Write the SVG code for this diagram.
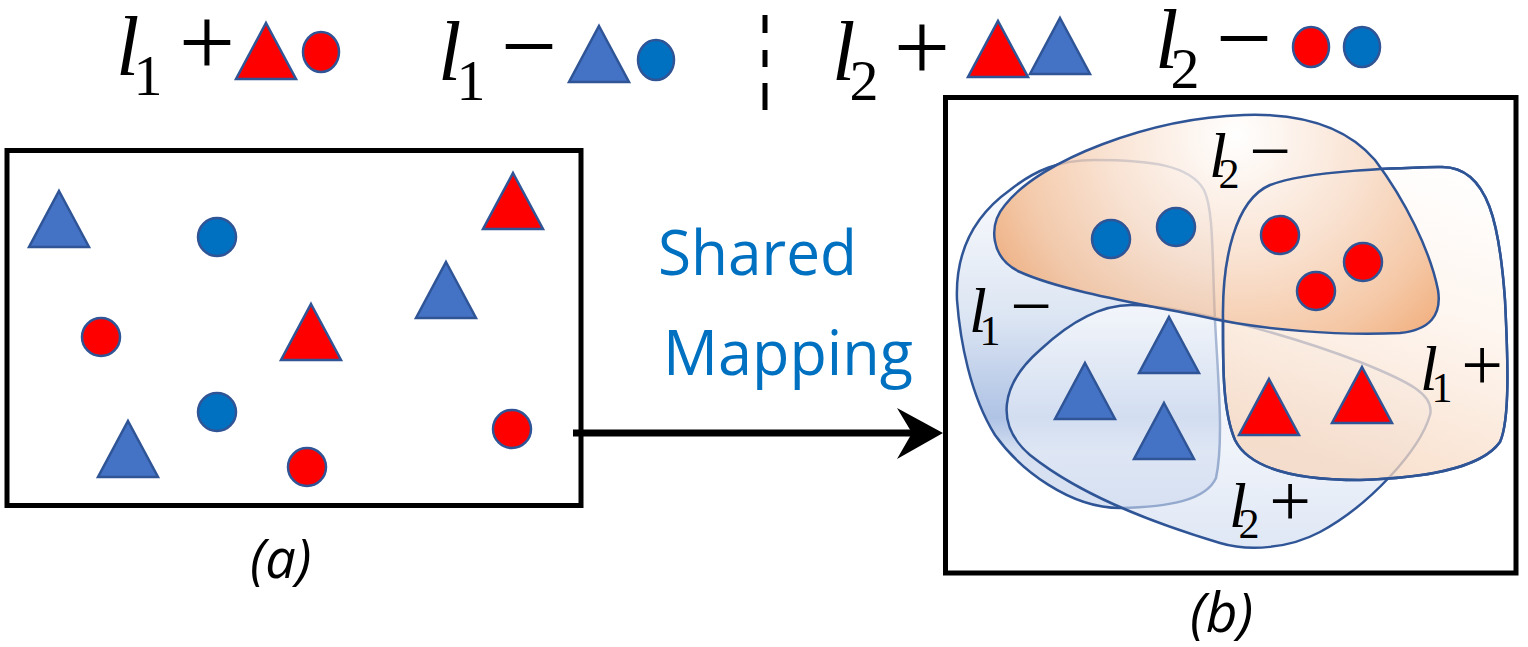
<svg xmlns="http://www.w3.org/2000/svg" xmlns:xlink="http://www.w3.org/1999/xlink" width="1528" height="647" viewBox="0 0 1528 647">
<style>
.box{fill:none;stroke:#000;stroke-width:5}
.tb{fill:#4472C4;stroke:#2F5597;stroke-width:2.5;stroke-linejoin:miter}
.tr{fill:#FF0000;stroke:#2F5597;stroke-width:2.5;stroke-linejoin:miter}
.cb{fill:#0070C0;stroke:#2F5597;stroke-width:2.5}
.cr{fill:#FF0000;stroke:#2F5597;stroke-width:2.5}
.ml{font-family:"Liberation Serif",serif;font-style:italic;fill:#000}
.mn{font-family:"Liberation Serif",serif;fill:#000}
.blob{stroke:#2F5597;stroke-width:2.5}
.cap{font-family:"Open Sans","Liberation Sans",sans-serif;font-style:italic;fill:#000}
.blue{font-family:"Open Sans","Liberation Sans",sans-serif;fill:#0070C0}
</style>
<defs>
<polygon id="tri" points="0,-28 30,28 -30,28"/>
<linearGradient id="gL1m" x1="0" y1="160" x2="0" y2="508" gradientUnits="userSpaceOnUse">
<stop offset="0" stop-color="#FFFFFF"/>
<stop offset="0.45" stop-color="#DCE5F3"/>
<stop offset="0.74" stop-color="#AFC3E5"/>
<stop offset="0.84" stop-color="#D6E0F1"/>
<stop offset="1" stop-color="#D9E2F3"/>
</linearGradient>
<linearGradient id="gL2p" x1="0" y1="305" x2="0" y2="552" gradientUnits="userSpaceOnUse">
<stop offset="0" stop-color="#FFFFFF"/>
<stop offset="0.6" stop-color="#E3EAF6"/>
<stop offset="1" stop-color="#C9D7EE"/>
</linearGradient>
<linearGradient id="gL1p" x1="1490" y1="170" x2="1380" y2="480" gradientUnits="userSpaceOnUse">
<stop offset="0" stop-color="#FFFFFF"/>
<stop offset="0.5" stop-color="#FDF1E8"/>
<stop offset="1" stop-color="#F7D6BD"/>
</linearGradient>
<radialGradient id="gL2m" cx="1235" cy="135" r="290" gradientUnits="userSpaceOnUse">
<stop offset="0" stop-color="#FFFFFF"/>
<stop offset="0.45" stop-color="#F8DCC8"/>
<stop offset="0.75" stop-color="#F3BF98"/>
<stop offset="1" stop-color="#EE9A5C"/>
</radialGradient>
<path id="pL1p" d="M 1223,320 C 1222,260 1235,200 1270,185 C 1310,170 1400,168 1440,167 C 1490,165 1500,230 1505,300 C 1508,360 1510,420 1500,442 C 1480,470 1420,478 1360,480 C 1300,480 1250,470 1235,440 C 1222,410 1223,360 1223,320 Z"/>
</defs>

<g id="legend">
<text class="ml" x="116" y="75" font-size="84">l</text>
<text class="mn" x="148" y="95" font-size="58" text-anchor="middle">1</text>
<text class="mn" x="207" y="76" font-size="100" text-anchor="middle">+</text>
<use xlink:href="#tri" href="#tri" class="tr" x="266" y="51"/>
<ellipse class="cr" cx="321" cy="52" rx="18" ry="20"/>

<text class="ml" x="438" y="80" font-size="84">l</text>
<text class="mn" x="471" y="100" font-size="58" text-anchor="middle">1</text>
<text class="mn" x="529" y="80" font-size="100" text-anchor="middle">−</text>
<use xlink:href="#tri" href="#tri" class="tb" x="599" y="54"/>
<ellipse class="cb" cx="656" cy="60" rx="18" ry="20"/>

<path d="M765,15 V33 M765,50 V67 M765,83 V110" stroke="#000" stroke-width="5" fill="none"/>

<text class="ml" x="832" y="80" font-size="84">l</text>
<text class="mn" x="864" y="100" font-size="58" text-anchor="middle">2</text>
<text class="mn" x="922" y="81" font-size="100" text-anchor="middle">+</text>
<use xlink:href="#tri" href="#tri" class="tr" x="998" y="49"/>
<use xlink:href="#tri" href="#tri" class="tb" x="1060" y="46"/>

<text class="ml" x="1155" y="68" font-size="84">l</text>
<text class="mn" x="1185" y="88" font-size="58" text-anchor="middle">2</text>
<text class="mn" x="1244" y="72" font-size="100" text-anchor="middle">−</text>
<ellipse class="cr" cx="1311" cy="47" rx="18" ry="20"/>
<ellipse class="cb" cx="1362" cy="47" rx="18" ry="20"/>
</g>

<g id="panel-a">
<rect class="box" x="7" y="150.5" width="574" height="355"/>
<use xlink:href="#tri" href="#tri" class="tb" x="59" y="219"/>
<use xlink:href="#tri" href="#tri" class="tr" x="513" y="201"/>
<use xlink:href="#tri" href="#tri" class="tb" x="446" y="290"/>
<use xlink:href="#tri" href="#tri" class="tr" x="311" y="332"/>
<use xlink:href="#tri" href="#tri" class="tb" x="128" y="449"/>
<circle class="cb" cx="217" cy="237" r="19"/>
<circle class="cr" cx="101" cy="337" r="19"/>
<circle class="cb" cx="217" cy="412" r="19"/>
<circle class="cr" cx="512" cy="429" r="19"/>
<circle class="cr" cx="307" cy="467" r="19"/>
<text class="cap" x="250" y="578" font-size="54">(a)</text>
</g>

<g id="connectors">
<line x1="573" y1="433" x2="915" y2="433" stroke="#000" stroke-width="7"/>
<polygon points="943,433 897,408 912,433 897,459" fill="#000"/>
</g>

<g id="label-shared-mapping">
<text class="blue" x="658" y="275" font-size="62" textLength="199" lengthAdjust="spacingAndGlyphs">Shared</text>
<text class="blue" x="663" y="375" font-size="62" textLength="250" lengthAdjust="spacingAndGlyphs">Mapping</text>
</g>

<g id="panel-b">
<rect class="box" x="945.5" y="97.5" width="570.5" height="475.5"/>
<g id="set-l1-minus">
<path class="blob" fill="url(#gL1m)" d="M 1094,160 C 1150,160 1190,165 1204,190 C 1214,210 1212,260 1215,320 C 1218,380 1224,440 1216,478 C 1206,500 1170,507 1120,508 C 1070,508 1020,470 995,435 C 970,395 960,340 957,300 C 955,250 975,215 1010,190 C 1035,170 1060,160 1094,160 Z"/>
</g>
<g id="set-l2-plus">
<path class="blob" fill="url(#gL2p)" fill-opacity="0.6" d="M 1131,305 C 1180,305 1290,335 1360,362 C 1410,382 1435,395 1430,415 C 1420,450 1370,505 1320,532 C 1290,548 1250,552 1220,543 C 1150,522 1080,495 1030,455 C 995,425 1000,385 1040,350 C 1070,322 1100,305 1131,305 Z"/>
</g>
<g id="set-l1-plus">
<use xlink:href="#pL1p" href="#pL1p" class="blob" fill="url(#gL1p)" fill-opacity="0.75"/>
</g>
<g id="set-l2-minus">
<path class="blob" fill="url(#gL2m)" fill-opacity="0.82" d="M 1244,115 C 1300,113 1345,125 1375,160 C 1405,200 1430,250 1438,290 C 1442,315 1430,330 1400,333 C 1340,336 1260,330 1200,316 C 1130,302 1060,290 1020,272 C 990,258 988,225 1005,205 C 1040,160 1150,118 1244,115 Z"/>
<use xlink:href="#pL1p" href="#pL1p" fill="none" stroke="#2F5597" stroke-width="2.5"/>
</g>
<g id="points-b">
<circle class="cb" cx="1111" cy="239" r="19"/>
<circle class="cb" cx="1176" cy="227" r="19"/>
<circle class="cr" cx="1280" cy="235" r="19"/>
<circle class="cr" cx="1363" cy="262" r="19"/>
<circle class="cr" cx="1316" cy="291" r="19"/>
<use xlink:href="#tri" href="#tri" class="tb" x="1169" y="345"/>
<use xlink:href="#tri" href="#tri" class="tb" x="1085" y="391"/>
<use xlink:href="#tri" href="#tri" class="tb" x="1164" y="431"/>
<use xlink:href="#tri" href="#tri" class="tr" x="1269" y="407"/>
<use xlink:href="#tri" href="#tri" class="tr" x="1362" y="395"/>
</g>
<g id="labels-b">
<text class="ml" x="1209" y="177" font-size="64">l</text>
<text class="mn" x="1229" y="188" font-size="42" text-anchor="middle">2</text>
<text class="mn" x="1270" y="176" font-size="74" text-anchor="middle">−</text>
<text class="ml" x="969" y="332" font-size="64">l</text>
<text class="mn" x="990" y="345" font-size="42" text-anchor="middle">1</text>
<text class="mn" x="1031" y="331" font-size="74" text-anchor="middle">−</text>
<text class="ml" x="1420" y="390" font-size="64">l</text>
<text class="mn" x="1442" y="402" font-size="42" text-anchor="middle">1</text>
<text class="mn" x="1482" y="390" font-size="74" text-anchor="middle">+</text>
<text class="ml" x="1229" y="527" font-size="64">l</text>
<text class="mn" x="1249" y="538" font-size="42" text-anchor="middle">2</text>
<text class="mn" x="1290" y="526" font-size="74" text-anchor="middle">+</text>
</g>
<text class="cap" x="1190" y="632" font-size="55">(b)</text>
</g>
</svg>
